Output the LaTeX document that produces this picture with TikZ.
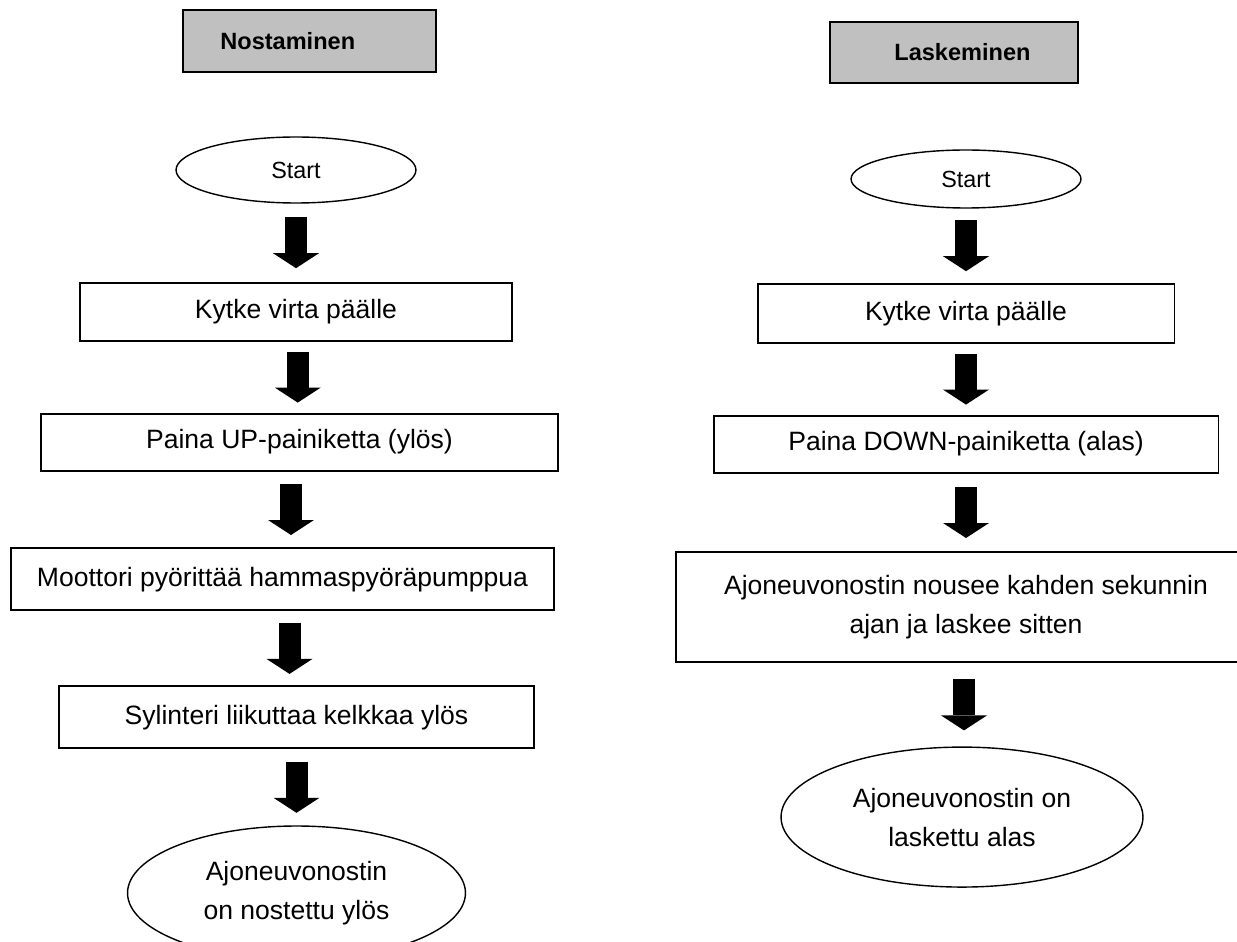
\documentclass[tikz,border=0pt]{standalone}
\usepackage{fontspec}
\setmainfont{Liberation Sans}
\usetikzlibrary{arrows.meta,positioning,calc,shapes.geometric}
\definecolor{hdrgray}{RGB}{192,192,192}

\begin{document}
\begin{tikzpicture}[
  x=0.02cm,
  y=-0.02cm,
  node distance=1.5cm,
  stepbox/.style={
    draw=black,
    line width=1.1pt,
    fill=white,
    inner sep=0pt,
    align=center,
    font=\fontsize{15.1}{22.2}\selectfont
  },
  hdrbox/.style={
    draw=black,
    line width=1.1pt,
    fill=hdrgray,
    inner sep=0pt
  },
  hdrtxt/.style={
    inner sep=0pt,
    font=\fontsize{13.4}{16}\selectfont\bfseries
  },
  term/.style={
    ellipse,
    draw=black,
    line width=0.8pt,
    fill=white,
    inner sep=0pt,
    align=center,
    font=\fontsize{15.1}{22.2}\selectfont
  },
  startfont/.style={
    font=\fontsize{13.3}{16}\selectfont
  },
  flow/.style={
    line width=0.44cm,
    -{Triangle[width=0.92cm,length=0.3cm,line width=0pt]}
  }
]

\useasboundingbox[fill=white] (0,0) rectangle (1237,942);
\clip (0,0) rectangle (1237,942);

% Nostaminen
\node[hdrbox,minimum width=5.06cm,minimum height=1.24cm] (hdrL) at (309.5,41) {};
\node[hdrtxt,right=0.76cm of hdrL.west] (hdrLtxt) {Nostaminen};

\node[term,startfont,minimum width=4.8cm,minimum height=1.32cm] (startL) at (296,170) {Start};
\node[stepbox,below=1.56cm of startL,minimum width=8.66cm,minimum height=1.16cm] (kytkeL) {Kytke virta päälle};
\node[stepbox,below=1.42cm of kytkeL,xshift=0.07cm,minimum width=10.34cm,minimum height=1.14cm] (upL) {Paina UP-painiketta (ylös)};
\node[stepbox,below=1.52cm of upL,xshift=-0.34cm,minimum width=10.88cm,minimum height=1.24cm] (motL) {Moottori pyörittää hammaspyöräpumppua};
\node[stepbox,below=1.48cm of motL,xshift=0.28cm,minimum width=9.52cm,minimum height=1.24cm] (sylL) {Sylinteri liikuttaa kelkkaa ylös};
\node[term,below=1.52cm of sylL,minimum width=6.76cm,minimum height=2.68cm] (endL) {Ajoneuvonostin\\on nostettu ylös};

% Laskeminen
\node[hdrbox,minimum width=4.96cm,minimum height=1.22cm] (hdrR) at (954,52.5) {};
\node[hdrtxt,right=1.3cm of hdrR.west] (hdrRtxt) {Laskeminen};

\node[term,startfont,minimum width=4.6cm,minimum height=1.16cm] (startR) at (966,179) {Start};
\node[stepbox,below=1.48cm of startR,minimum width=8.34cm,minimum height=1.18cm] (kytkeR) {Kytke virta päälle};
\node[stepbox,below=1.42cm of kytkeR,minimum width=10.1cm,minimum height=1.14cm] (downR) {Paina DOWN-painiketta (alas)};
\node[stepbox,below=1.56cm of downR,minimum width=11.6cm,minimum height=2.2cm] (ajoR) {Ajoneuvonostin nousee kahden sekunnin\\ajan ja laskee sitten};
\node[term,below=1.66cm of ajoR,xshift=-0.08cm,minimum width=7.24cm,minimum height=2.8cm] (endR) {Ajoneuvonostin on\\laskettu alas};

% Block arrows, left
\draw[flow] ($(startL.south)!.5!(kytkeL.north)$) +(0,-25.5) -- +(0,25.5);
\draw[flow] ($(kytkeL.south)!.5!(upL.north)$) +(0,-25.5) -- +(0,25.5);
\draw[flow] ($(upL.south)!.5!(motL.north)$) +(0,-25.5) -- +(0,25.5);
\draw[flow] ($(motL.south)!.5!(sylL.north)$) +(0,-25.5) -- +(0,25.5);
\draw[flow] ($(sylL.south)!.5!(endL.north)$) +(0,-25.5) -- +(0,25.5);

% Block arrows, right
\draw[flow] ($(startR.south)!.5!(kytkeR.north)$) +(0,-25.5) -- +(0,25.5);
\draw[flow] ($(kytkeR.south)!.5!(downR.north)$) +(0,-25.5) -- +(0,25.5);
\draw[flow] ($(downR.south)!.5!(ajoR.north)$) +(0,-25.5) -- +(0,25.5);
\draw[flow] ($(ajoR.south)!.5!(endR.north)$) +(0,-25.5) -- +(0,25.5);

\end{tikzpicture}
\end{document}
